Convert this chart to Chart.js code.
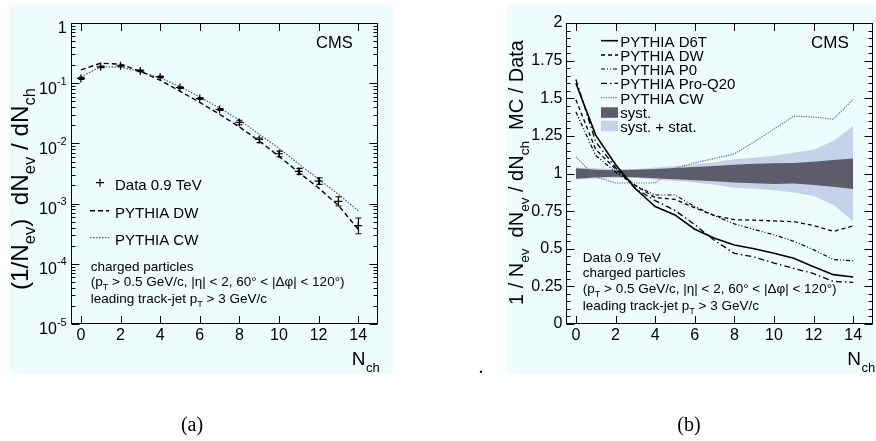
<!DOCTYPE html>
<html><head><meta charset="utf-8">
<title>CMS charged particle multiplicity</title>
<script src="https://cdn.jsdelivr.net/npm/chart.js@4.4.1/dist/chart.umd.min.js"></script>
<style>
html,body{margin:0;padding:0;background:#fff;width:876px;height:441px;overflow:hidden;}
.panel{position:absolute;background:#effcfd;}
#pa{left:9px;top:4px;width:384px;height:369px;}
#pb{left:506px;top:4px;width:370px;height:369px;}
canvas{position:absolute;top:0;}
#ca{left:0;}
#cb{left:440px;}
.cap{position:absolute;font-family:"Liberation Serif","DejaVu Serif",serif;font-size:20px;line-height:28px;width:60px;text-align:center;color:#000;}
</style></head>
<body>
<div class="panel" id="pa"></div>
<div class="panel" id="pb"></div>
<canvas id="ca" width="440" height="441"></canvas>
<canvas id="cb" width="436" height="441"></canvas>
<div class="cap" style="left:162px;top:410px;">(a)</div>
<div class="cap" style="left:659px;top:410px;">(b)</div>
<div class="cap" style="left:451px;top:352px;">.</div>
<script>
// ---------------- data ----------------
const nCh = [0,1,2,3,4,5,6,7,8,9,10,11,12,13,14];
const xTickValues = [0,2,4,6,8,10,12,14];
const logDecades = [-5,-4,-3,-2,-1,0];
const ratioTickValues = [0,0.25,0.5,0.75,1,1.25,1.5,1.75,2];
const ratioTickLabels = ['0','0.25','0.5','0.75','1','1.25','1.5','1.75','2'];

// panel (a): normalised distribution
const dataVal   = [0.120,0.187,0.194,0.160,0.127,0.0848,0.0557,0.0366,0.0223,0.01165,0.00673,0.00343,0.00237,0.00109,0.00043];
const dataErrLo = [0.115,0.181,0.188,0.155,0.123,0.0821,0.0537,0.0352,0.0204,0.0103,0.0060,0.00306,0.00209,0.00091,0.000315];
const dataErrHi = [0.125,0.193,0.200,0.165,0.131,0.0875,0.0577,0.0380,0.0243,0.0123,0.00745,0.00385,0.00269,0.00130,0.000575];
const distDW    = [0.166,0.215,0.207,0.158,0.112,0.0738,0.048,0.0305,0.0188,0.0110,0.0061,0.0033,0.00182,0.00093,0.000374];
const distCW    = [0.128,0.187,0.185,0.155,0.123,0.088,0.059,0.0388,0.0244,0.0142,0.0083,0.00454,0.00256,0.00143,0.00076];

// panel (b): MC / Data ratios
const ratioD6T    = [1.60,1.255,1.06,0.90,0.78,0.725,0.63,0.57,0.525,0.50,0.47,0.437,0.38,0.328,0.312];
const ratioDW     = [1.49,1.16,1.03,0.92,0.84,0.828,0.772,0.72,0.693,0.69,0.685,0.68,0.655,0.615,0.652];
const ratioP0     = [1.41,1.12,1.01,0.92,0.857,0.857,0.78,0.72,0.665,0.628,0.593,0.55,0.494,0.428,0.42];
const ratioProQ20 = [1.625,1.21,1.04,0.90,0.82,0.755,0.66,0.555,0.47,0.445,0.405,0.37,0.335,0.283,0.277];
const ratioCW     = [1.11,0.977,0.937,0.937,0.937,1.035,1.07,1.10,1.13,1.21,1.295,1.381,1.375,1.361,1.494];
const systUp  = [1.035,1.025,1.022,1.025,1.030,1.037,1.044,1.050,1.058,1.064,1.068,1.070,1.078,1.090,1.100];
const systLow = [0.965,0.975,0.978,0.975,0.968,0.962,0.955,0.948,0.940,0.935,0.930,0.933,0.924,0.912,0.897];
const totUp   = [1.040,1.035,1.030,1.030,1.040,1.050,1.060,1.075,1.095,1.105,1.118,1.138,1.160,1.216,1.317];
const totLow  = [0.960,0.965,0.970,0.970,0.960,0.950,0.940,0.925,0.905,0.898,0.888,0.873,0.851,0.791,0.685];

// ---------------- helpers ----------------
const FAM = "'Liberation Sans', Arial, Helvetica, sans-serif";
Chart.defaults.font.family = FAM;
Chart.defaults.color = '#000';
const pts = arr => nCh.map((n,i)=>({x:n,y:arr[i]}));

function richWidth(ctx, segs, size){
  let w=0;
  segs.forEach(s=>{ctx.font=(s.sub||s.sup? size*0.68:size)+'px '+FAM; w+=ctx.measureText(s.t).width;});
  return w;
}
function drawRich(ctx, segs, x, y, size){
  let cx=x;
  segs.forEach(s=>{
    const sz = s.sub||s.sup ? size*0.68 : size;
    ctx.font = sz+'px '+FAM;
    const dy = s.sub ? size*0.3 : (s.sup ? -size*0.55 : 0);
    ctx.fillText(s.t, cx, y+dy);
    cx += ctx.measureText(s.t).width;
  });
  return cx;
}
function drawRotTitle(ctx, segs, baseX, yBottom, yTop){
  const target = yBottom - yTop;
  const w0 = richWidth(ctx, segs, 22);
  const size = 22*target/w0;
  ctx.save();
  ctx.translate(baseX, yBottom);
  ctx.rotate(-Math.PI/2);
  ctx.fillStyle='#000'; ctx.textBaseline='alphabetic'; ctx.textAlign='left';
  drawRich(ctx, segs, 0, 0, size);
  ctx.restore();
}
function drawFrame(chart, yMajor, yMinor){
  const ctx=chart.ctx, a=chart.chartArea, xs=chart.scales.x, ys=chart.scales.y;
  ctx.save();
  ctx.strokeStyle='#000'; ctx.lineWidth=1;
  const L=Math.round(a.left)+0.5, R=Math.round(a.right)-0.5, T=Math.round(a.top)+0.5, B=Math.round(a.bottom)-0.5;
  ctx.strokeRect(L, T, R-L, B-T);
  ctx.beginPath();
  xTickValues.forEach(v=>{const p=Math.round(xs.getPixelForValue(v))+0.5;
    ctx.moveTo(p,B); ctx.lineTo(p,B-7.5); ctx.moveTo(p,T); ctx.lineTo(p,T+7.5);});
  yMajor.forEach(v=>{const p=Math.round(ys.getPixelForValue(v))+0.5;
    ctx.moveTo(L,p); ctx.lineTo(L+8,p); ctx.moveTo(R,p); ctx.lineTo(R-8,p);});
  yMinor.forEach(v=>{const p=Math.round(ys.getPixelForValue(v))+0.5;
    ctx.moveTo(L,p); ctx.lineTo(L+4,p); ctx.moveTo(R,p); ctx.lineTo(R-4,p);});
  ctx.stroke();
  ctx.restore();
}
function xTitle(ctx, x){
  ctx.save(); ctx.fillStyle='#000'; ctx.textBaseline='alphabetic';
  ctx.font='19px '+FAM; ctx.fillText('N', x, 365);
  const w=ctx.measureText('N').width;
  ctx.font='13px '+FAM; ctx.fillText('ch', x+w+0.5, 371.5);
  ctx.restore();
}
function legendLine(ctx, x1, x2, y, dash, color, lw){
  ctx.save(); ctx.strokeStyle=color; ctx.lineWidth=lw; ctx.setLineDash(dash);
  ctx.beginPath(); ctx.moveTo(x1,y); ctx.lineTo(x2,y); ctx.stroke(); ctx.restore();
}
const selText = (size)=>[
  [{t:'charged particles'}],
  [{t:'(p'},{t:'T',sub:true},{t:' > 0.5 GeV/c, |\u03b7| < 2, 60\u00b0 < |\u0394\u03c6| < 120\u00b0)'}],
  [{t:'leading track-jet p'},{t:'T',sub:true},{t:' > 3 GeV/c'}]
];

const STY = {
  DW:{dash:[5,3], color:'#000', lw:1.4},
  CWa:{dash:[1.5,1.5], color:'#4a5a9c', lw:1.3},
  D6T:{dash:[], color:'#000', lw:1.6},
  DWb:{dash:[4,3], color:'#000', lw:1.3},
  P0:{dash:[4,2,1,2,1,2], color:'#000', lw:1.2},
  PQ:{dash:[6,3,1.5,3], color:'#000', lw:1.3},
  CWb:{dash:[1.2,1.2], color:'#5f6b85', lw:1.2}
};

// ---------------- chart (a) ----------------
const logMinor=[]; logDecades.slice(0,-1).forEach(d=>{for(let k=2;k<=9;k++) logMinor.push(k*Math.pow(10,d));});
const logMajor=logDecades.map(d=>Math.pow(10,d));

const pluginA = {
  id:'decorA',
  afterDatasetsDraw(chart){
    const ctx=chart.ctx, xs=chart.scales.x, ys=chart.scales.y;
    ctx.save(); ctx.strokeStyle='#000'; ctx.lineWidth=1.1;
    ctx.beginPath();
    nCh.forEach((n,i)=>{
      const px=Math.round(xs.getPixelForValue(n))+0.5;
      const yl=ys.getPixelForValue(dataErrLo[i]), yh=ys.getPixelForValue(dataErrHi[i]);
      ctx.moveTo(px,yl); ctx.lineTo(px,yh);
      ctx.moveTo(px-3,yl); ctx.lineTo(px+3,yl);
      ctx.moveTo(px-3,yh); ctx.lineTo(px+3,yh);
    });
    ctx.stroke(); ctx.restore();
  },
  afterDraw(chart){
    const ctx=chart.ctx, ys=chart.scales.y;
    drawFrame(chart, logMajor, logMinor);
    ctx.save(); ctx.fillStyle='#000'; ctx.textBaseline='alphabetic';
    // y tick labels 10^n
    logDecades.forEach(d=>{
      const p=ys.getPixelForValue(Math.pow(10,d));
      if(d===0){ ctx.font='16px '+FAM; const w=ctx.measureText('1').width; ctx.fillText('1', 66.7-w, p+10.3); return; }
      ctx.font='16px '+FAM; const w1=ctx.measureText('10').width;
      ctx.font='11px '+FAM; const e=String(d); const w2=ctx.measureText(e).width;
      const x0=66.7-w1-w2;
      ctx.font='16px '+FAM; ctx.fillText('10', x0, p+10.3);
      ctx.font='11px '+FAM; ctx.fillText(e, x0+w1, p+1.5);
    });
    // CMS
    ctx.font='16.5px '+FAM; ctx.fillText('CMS', 316, 48.3);
    // legend
    ctx.font='15px '+FAM;
    ctx.fillText('Data 0.9 TeV', 115, 190);
    ctx.fillText('PYTHIA DW', 115, 218.3);
    ctx.fillText('PYTHIA CW', 115, 245);
    ctx.strokeStyle='#000'; ctx.lineWidth=1.2; ctx.beginPath();
    ctx.moveTo(96,182.7); ctx.lineTo(104,182.7); ctx.moveTo(100,178.7); ctx.lineTo(100,186.7); ctx.stroke();
    legendLine(ctx, 90, 109, 210.7, STY.DW.dash, STY.DW.color, STY.DW.lw);
    legendLine(ctx, 90, 109, 237.7, STY.CWa.dash, STY.CWa.color, STY.CWa.lw);
    // selection text
    const lines=selText(); const bl=[270.5,285.5,303];
    lines.forEach((segs,i)=>drawRich(ctx, segs, 90.7, bl[i], 13.5));
    ctx.restore();
    // titles
    drawRotTitle(ctx, [{t:'(1/N'},{t:'ev',sub:true},{t:')  dN'},{t:'ev',sub:true},{t:' / dN'},{t:'ch',sub:true}], 28, 290, 88);
    xTitle(ctx, 351.7);
  }
};

new Chart(document.getElementById('ca'), {
  type:'line',
  data:{datasets:[
    {label:'Data 0.9 TeV', data:pts(dataVal), showLine:false, pointStyle:'cross', pointRadius:4, pointBorderWidth:1.2, borderColor:'#000', backgroundColor:'#000', order:0},
    {label:'PYTHIA DW', data:pts(distDW), borderColor:STY.DW.color, borderDash:STY.DW.dash, borderWidth:STY.DW.lw, pointRadius:0, fill:false, tension:0, order:1},
    {label:'PYTHIA CW', data:pts(distCW), borderColor:STY.CWa.color, borderDash:STY.CWa.dash, borderWidth:STY.CWa.lw, pointRadius:0, fill:false, tension:0, order:2}
  ]},
  options:{
    responsive:false, animation:false, devicePixelRatio:1,
    layout:{padding:{left:0,right:62,top:23,bottom:0}},
    plugins:{legend:{display:false}, tooltip:{enabled:false}},
    scales:{
      x:{type:'linear', min:-0.5, max:15,
         afterBuildTicks:s=>{s.ticks=xTickValues.map(v=>({value:v}));},
         afterFit:s=>{s.height=117;},
         grid:{display:false, drawTicks:false}, border:{display:false},
         ticks:{font:{size:16}, color:'#000', padding:2, maxRotation:0, autoSkip:false}},
      y:{type:'logarithmic', min:1e-5, max:1,
         afterBuildTicks:s=>{s.ticks=logMajor.map(v=>({value:v}));},
         afterFit:s=>{s.width=71;},
         grid:{display:false, drawTicks:false}, border:{display:false},
         ticks:{display:false}}
    }
  },
  plugins:[pluginA]
});

// ---------------- chart (b) ----------------
const ratioMinor=[]; for(let i=0;i<=40;i++){ if(i%5) ratioMinor.push(i*0.05); }

const pluginB = {
  id:'decorB',
  afterDraw(chart){
    const ctx=chart.ctx;
    drawFrame(chart, ratioTickValues, ratioMinor);
    ctx.save(); ctx.fillStyle='#000'; ctx.textBaseline='alphabetic';
    ctx.font='17px '+FAM; ctx.fillText('CMS', 371, 48.3);
    // legend
    const lx1=161, lx2=178, tx=180.3;
    const ent=[['PYTHIA D6T',STY.D6T,47,40.7],['PYTHIA DW',STY.DWb,61,55],['PYTHIA P0',STY.P0,74.5,69],['PYTHIA Pro-Q20',STY.PQ,88.5,83.3],['PYTHIA CW',STY.CWb,104,97.7]];
    ctx.font='15px '+FAM;
    ent.forEach(e=>{ ctx.fillText(e[0], tx, e[2]); legendLine(ctx, lx1, lx2, e[3], e[1].dash, e[1].color, e[1].lw); });
    ctx.fillStyle='#5c5c6b'; ctx.fillRect(lx1, 107.3, lx2-lx1, 10.5);
    ctx.fillStyle='#c5d3ea'; ctx.fillRect(lx1, 120.7, lx2-lx1, 10.5);
    ctx.fillStyle='#000'; ctx.font='15px '+FAM;
    ctx.fillText('syst.', tx, 118); ctx.fillText('syst. + stat.', tx, 131.5);
    // text block
    ctx.font='13.5px '+FAM; ctx.fillText('Data 0.9 TeV', 142.7, 261.7);
    const lines=selText(); const bl=[277,292.7,310.4];
    lines.forEach((segs,i)=>drawRich(ctx, segs, 142.7, bl[i], 13.5));
    ctx.restore();
    drawRotTitle(ctx, [{t:'1 / N'},{t:'ev',sub:true},{t:'  dN'},{t:'ev',sub:true},{t:' / dN'},{t:'ch',sub:true},{t:'  MC / Data'}], 83, 305, 40);
    xTitle(ctx, 407.3);
  }
};

const lineDS = (label, arr, st, ord)=>({label, data:pts(arr), borderColor:st.color, borderDash:st.dash, borderWidth:st.lw, pointRadius:0, fill:false, tension:0, order:ord});

new Chart(document.getElementById('cb'), {
  type:'line',
  data:{datasets:[
    {label:'syst. + stat. (up)', data:pts(totUp), borderWidth:0, pointRadius:0, fill:false, order:10, borderColor:'rgba(0,0,0,0)'},
    {label:'syst. + stat.', data:pts(totLow), borderWidth:0, pointRadius:0, fill:'-1', backgroundColor:'#c5d3ea', order:9, borderColor:'rgba(0,0,0,0)'},
    {label:'syst. (up)', data:pts(systUp), borderWidth:0, pointRadius:0, fill:false, order:8, borderColor:'rgba(0,0,0,0)'},
    {label:'syst.', data:pts(systLow), borderWidth:0, pointRadius:0, fill:'-1', backgroundColor:'#5c5c6b', order:7, borderColor:'rgba(0,0,0,0)'},
    lineDS('PYTHIA D6T', ratioD6T, STY.D6T, 0),
    lineDS('PYTHIA DW', ratioDW, STY.DWb, 1),
    lineDS('PYTHIA P0', ratioP0, STY.P0, 2),
    lineDS('PYTHIA Pro-Q20', ratioProQ20, STY.PQ, 3),
    lineDS('PYTHIA CW', ratioCW, STY.CWb, 4)
  ]},
  options:{
    responsive:false, animation:false, devicePixelRatio:1,
    layout:{padding:{left:0,right:3,top:23,bottom:0}},
    plugins:{legend:{display:false}, tooltip:{enabled:false}, filler:{propagate:false}},
    scales:{
      x:{type:'linear', min:-0.5, max:15,
         afterBuildTicks:s=>{s.ticks=xTickValues.map(v=>({value:v}));},
         afterFit:s=>{s.height=117;},
         grid:{display:false, drawTicks:false}, border:{display:false},
         ticks:{font:{size:16}, color:'#000', padding:2, maxRotation:0, autoSkip:false}},
      y:{type:'linear', min:0, max:2,
         afterBuildTicks:s=>{s.ticks=ratioTickValues.map(v=>({value:v}));},
         afterFit:s=>{s.width=126;},
         grid:{display:false, drawTicks:false}, border:{display:false},
         ticks:{font:{size:16}, color:'#000', padding:3.5, autoSkip:false,
                callback:(v)=>{const i=ratioTickValues.indexOf(v); return i>=0?ratioTickLabels[i]:'';}}}
    }
  },
  plugins:[pluginB]
});
</script>
</body></html>
